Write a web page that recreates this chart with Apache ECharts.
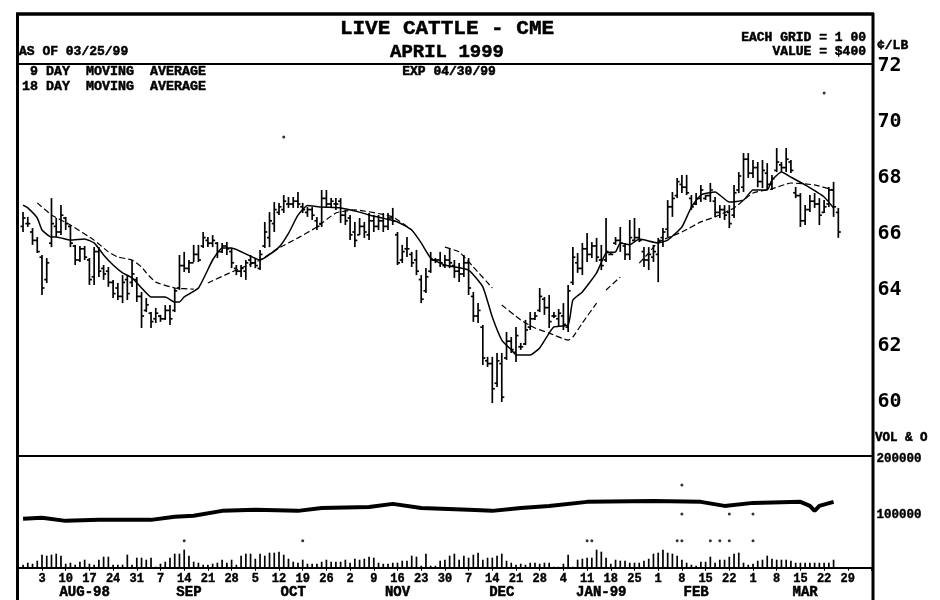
<!DOCTYPE html>
<html>
<head>
<meta charset="utf-8">
<title>Live Cattle - CME</title>
<script src="https://cdn.jsdelivr.net/npm/echarts@6/dist/echarts.min.js"></script>
<style>
  html, body { margin: 0; padding: 0; background: #fff; }
  #chart { width: 940px; height: 600px; }
</style>
</head>
<body>
<div id="chart"></div>
<script>
// one entry per trading day, first bar is day -4, day 0 is Aug 3
const firstDay = -4
const highs = [
  66.71,66.54,66.14,65.82,65.18,65.07,67.21,66.5,66.96,66.54,
  66.25,65.54,65.5,65.5,65.07,65.46,65.46,64.82,64.75,64.29,
  64.18,64.46,64.46,65.0,64.39,63.86,63.64,63.14,63.29,63.04,
  63.39,63.39,64.0,65.18,65.29,65.0,65.54,65.54,66.0,65.82,
  65.89,65.64,65.61,65.64,65.43,64.82,64.82,65.0,65.18,65.07,
  65.36,66.36,66.71,67.07,67.04,67.32,67.25,67.25,67.43,67.04,
  66.89,66.89,66.54,67.5,67.5,67.21,67.21,67.21,66.79,66.61,
  66.36,66.5,66.36,66.68,66.61,66.61,66.68,66.68,66.86,66.0,
  65.54,65.82,65.29,65.36,64.46,64.71,65.29,65.07,65.29,65.18,
  65.43,65.0,64.89,65.18,65.07,63.86,63.46,62.68,61.54,61.54,
  61.68,61.68,62.43,62.25,62.61,62.04,62.86,63.14,63.14,64.0,
  63.68,63.75,63.14,63.25,63.46,64.11,65.46,65.25,65.61,65.96,
  65.64,65.79,65.54,66.5,65.29,65.82,66.18,65.61,66.43,66.5,
  66.14,65.46,65.46,65.54,65.79,66.14,67.14,67.43,67.93,68.04,
  68.04,67.32,67.39,67.68,67.32,67.75,67.25,66.96,66.96,66.96,
  67.68,68.14,68.82,68.82,68.57,68.5,68.57,68.46,68.04,69.0,
  68.5,69.0,68.57,67.61,67.39,66.96,67.32,67.39,67.21,67.14,
  67.61,67.79,66.86
]
const lows = [
  66.0,66.18,65.54,65.25,63.75,64.18,65.46,65.82,65.89,66.07,
  65.46,64.82,64.93,65.0,64.11,64.11,64.39,64.29,64.04,63.64,
  63.57,63.46,63.57,64.04,63.5,62.57,63.14,62.57,62.75,62.79,
  62.86,62.68,63.14,63.93,64.57,64.54,64.93,64.93,65.43,65.46,
  65.46,65.07,65.25,65.18,64.71,64.46,64.39,64.29,64.75,64.71,
  64.64,65.43,65.46,66.0,66.61,66.68,66.86,66.86,66.86,66.68,
  66.54,66.43,66.07,66.18,66.86,66.86,66.79,66.32,66.25,65.71,
  65.46,65.89,65.79,65.71,66.0,66.07,66.0,66.07,66.25,64.82,
  64.89,65.11,64.75,64.46,63.46,63.82,64.54,64.89,64.75,64.71,
  64.71,64.36,64.21,64.39,63.75,62.79,62.75,61.25,61.18,59.89,
  60.46,59.93,61.43,61.68,61.36,61.79,61.96,62.5,62.86,63.14,
  63.04,62.57,62.93,62.64,62.5,62.43,64.11,64.54,64.46,64.93,
  65.07,64.93,64.64,64.93,65.18,65.54,65.29,65.0,65.0,65.64,
  65.64,64.75,64.64,64.93,64.21,65.46,65.82,66.54,67.21,67.39,
  67.32,66.79,66.96,67.07,67.14,67.07,66.54,66.5,66.43,66.14,
  66.5,67.39,67.43,67.93,67.93,67.6,67.57,67.5,67.5,68.14,
  68.14,68.14,68.11,67.21,66.18,66.25,66.71,66.86,66.25,66.68,
  66.89,66.54,65.79
]
const opens = [
  66.2,66.3,66.0,65.7,65.1,64.3,65.6,66.2,66.0,66.5,
  66.2,65.5,65.0,65.4,65.0,64.4,65.3,64.7,64.6,64.2,
  64.0,63.7,64.3,64.2,64.3,63.7,63.2,63.1,62.9,63.0,
  62.9,63.2,63.2,64.0,64.8,64.7,64.9,65.2,65.5,65.7,
  65.6,65.6,65.3,65.5,65.3,64.7,64.6,64.6,65.0,64.9,
  64.7,65.5,65.8,66.3,66.7,66.8,67.0,67.0,67.1,66.9,
  66.7,66.8,66.4,66.3,67.2,67.0,67.0,67.1,66.6,66.5,
  66.0,65.9,66.2,65.9,66.4,66.2,66.4,66.2,66.5,65.9,
  65.0,65.4,65.2,65.0,64.3,63.9,64.6,65.0,65.0,64.8,
  65.0,64.8,64.6,64.5,64.9,63.7,63.0,62.6,61.4,61.3,
  60.6,61.3,61.5,62.1,61.7,61.9,62.0,62.6,62.9,63.2,
  63.6,63.3,63.0,62.9,63.0,62.6,64.2,64.9,64.7,65.4,
  65.2,65.5,65.0,65.0,65.2,65.6,65.7,65.5,65.2,65.7,
  65.8,65.3,65.0,65.1,65.2,65.8,66.1,66.9,67.3,67.7,
  67.6,67.2,67.0,67.2,67.2,67.3,67.1,66.7,66.8,66.7,
  66.6,67.5,67.6,68.6,68.1,68.3,67.8,68.1,67.7,68.2,
  68.4,68.3,68.5,67.4,67.3,66.4,66.8,67.1,67.0,66.7,
  67.0,67.5,66.7
]
const closes = [
  66.5,66.3,65.7,65.3,64.0,64.9,66.3,66.0,66.6,66.3,
  65.6,65.0,65.4,65.1,64.3,65.3,64.6,64.5,64.2,63.8,
  63.7,64.2,63.8,64.5,63.7,63.0,63.4,62.8,63.1,62.9,
  63.2,62.9,63.9,64.8,64.7,64.9,65.2,65.0,65.8,65.6,
  65.7,65.3,65.5,65.4,64.9,64.6,64.7,64.9,64.9,64.8,
  65.2,66.0,66.4,66.8,66.9,67.1,67.0,67.1,67.0,66.8,
  66.8,66.6,66.2,67.2,67.0,67.1,67.0,66.6,66.4,65.9,
  65.7,66.2,66.0,66.4,66.2,66.4,66.2,66.5,66.4,64.9,
  65.3,65.4,64.9,64.6,63.6,64.4,65.0,65.0,64.9,65.0,
  64.9,64.6,64.5,64.9,64.0,63.0,63.2,61.5,61.3,60.4,
  61.4,60.1,62.1,61.8,62.3,61.9,62.5,62.9,63.0,63.7,
  63.3,62.8,63.0,63.1,62.7,63.9,65.1,64.7,65.4,65.2,
  65.5,65.1,64.8,65.3,65.2,65.7,65.6,65.2,65.8,65.8,
  65.7,65.0,65.2,65.3,65.7,66.0,66.9,67.2,67.8,67.6,
  67.4,66.9,67.2,67.5,67.3,67.5,66.7,66.8,66.6,66.3,
  67.4,68.0,68.6,68.1,68.3,67.8,68.2,67.7,67.9,68.5,
  68.3,68.6,68.2,67.3,66.4,66.8,67.1,67.0,66.6,66.9,
  67.5,66.9,66.0
]
const volume = [
  5400,9000,7200,12600,23400,21600,23400,25200,21600,7200,
  9000,5400,10800,14400,7200,5400,14400,19800,19800,5400,
  5400,5400,23400,5400,18000,18000,14400,18000,1800,7200,
  10800,18000,25200,25200,32400,21600,10800,9000,5400,5400,
  7200,9000,14400,9000,14400,5400,21600,25200,25200,16200,
  25200,21600,27000,27000,28800,23400,16200,10800,9000,14400,
  7200,7200,7200,10800,14400,10800,10800,10800,14400,9000,
  16200,14400,16200,19800,18000,9000,7200,7200,9000,9000,
  12600,12600,21600,19800,3600,25200,3600,3600,12600,14400,
  21600,25200,14400,21600,18000,23400,27000,14400,18000,18000,
  21600,25200,12600,9000,5400,7200,5400,9000,9000,7200,
  9000,9000,1800,1800,7200,23400,1800,14400,16200,18000,
  18000,32400,28800,18000,7200,14400,12600,12600,9000,9000,
  9000,12600,16200,25200,27000,32400,27000,25200,21600,14400,
  9000,5400,3600,10800,10800,19800,9000,14400,14400,19800,
  25200,27000,9000,5400,7200,12600,14400,21600,16200,14400,
  14400,14400,12600,9000,9000,9000,9000,9000,9000,9000,
  9000,14400,0
]

// moving averages and open interest as [day, value]
// a null value is a break in the printed line
const ma9 = [
  [-4,66.96],[-3,66.86],[-1,66.5],[0,66.07],[2,65.82],[3,65.82],[6,65.71],[9,65.75],[11,65.61],[13,65.18],
  [15,64.82],[17,64.54],[19,64.36],[21,64.0],[23,63.68],[26,63.68],[28,63.5],[29,63.5],[30,63.68],[33,64.0],
  [36,65.0],[38,65.43],[40,65.43],[46,65.0],[50,65.46],[52,65.95],[54,66.6],[56,66.95],[59,66.89],[63,66.86],[67,66.71],
  [69,66.61],[75,66.36],[78,66.07],[80,65.61],[82,65.07],[85,64.82],[90,64.64],[93,64.04],[95,62.96],[97,62.14],
  [99,61.79],[100,61.61],[103,61.61],[105,61.86],[107,62.39],[108,62.61],[111,62.68],[112,63.57],[114,63.86],[117,64.54],
  [119,65.25],[121,65.29],[122,65.61],[124,65.54],[126,65.75],[130,65.61],[132,65.71],[135,66.18],[137,66.89],[139,67.32],
  [142,67.43],[145,67.07],[148,67.14],[150,67.5],[153,67.5],[154,67.86],[156,68.14],[158,67.96],[161,67.68],[165,67.25],
  [167,66.86]
]
const ma18 = [
  [-1,67.04],[2,66.61],[6,66.25],[11,65.71],[14,65.29],[16,65.11],[19,65.0],[21,64.75],[22,64.54],[24,64.21],
  [28,64.0],[32,63.96],[33,null],[35,64.18],[40,64.57],[46,65.0],[50,65.43],[54,65.79],[58,66.18],[62,66.68],[66,66.79],
  [74,66.54],[78,66.07],[80,null],[82,65.64],[84,null],[85,65.46],[88,65.29],[91,64.75],[95,64.0],[96,null],[97,63.39],[101,62.86],[104,62.57],
  [107,62.39],[111,62.14],[112,62.25],[114,62.75],[117,63.46],[118,null],[119,63.93],[122,64.39],[124,null],[126,64.89],[128,65.25],[130,65.64],
  [135,66.0],[139,66.36],[142,66.54],[146,66.86],[150,67.39],[154,67.54],[158,67.75],[163,67.68],[167,67.5]
]
const openInterest = [
  [-4,87500],[0,89300],[5,83900],[12,85700],[23,85700],[28,91100],[32,92900],[38,101800],[45,103600],[54,101800],
  [59,107100],[69,108900],[74,114300],[80,107100],[90,103600],[95,101800],[101,107100],[107,110700],[115,117900],[129,119600],
  [139,117900],[144,110700],[150,116100],[160,117900],[162,110700],[163,101800],[164,110700],[167,117900]
]
// stray specks printed in both panels
const priceSpecks = [[51,69.39],[165,70.96]]
const volumeSpecks = [
  [30,48200],[55,48200],[115,48200],[116,48200],[134,48200],[135,48200],[141,48200],[143,48200],[145,48200],[150,48200],
  [135,148200],[135,96400],[145,96400],[150,96400]
]

const weekLabels = ['3','10','17','24','31','7','14','21','28','5','12','19','26','2','9','16','23','30',
  '7','14','21','28','4','11','18','25','1','8','15','22','1','8','15','22','29']
const monthDays = [9,31,53,75,97,118,138,161]
const monthLabels = ['AUG-98','SEP','OCT','NOV','DEC','JAN-99','FEB','MAR']

const monoFont = '"Liberation Mono"'
const chart = echarts.init(document.getElementById('chart'), null, { renderer: 'canvas' })

const renderBar = (params, api) => {
  const x = api.value(0)
  const top = api.coord([x, api.value(1)])
  const bottom = api.coord([x, api.value(2)])
  const open = api.coord([x, api.value(3)])
  const close = api.coord([x, api.value(4)])
  const style = { stroke: '#000', lineWidth: 1.7 }
  return {
    type: 'group',
    children: [
      { type: 'line', shape: { x1: top[0], y1: top[1], x2: bottom[0], y2: bottom[1] }, style },
      { type: 'line', shape: { x1: open[0] - 2.5, y1: open[1], x2: open[0], y2: open[1] }, style },
      { type: 'line', shape: { x1: close[0], y1: close[1], x2: close[0] + 2.5, y2: close[1] }, style }
    ]
  }
}

const headerText = (text, x, y, size, align) => ({
  type: 'text',
  x, y,
  style: {
    text, fill: '#000', stroke: '#000', lineWidth: 0.5,
    font: `bold ${size}px ${monoFont}`, textAlign: align || 'left', textVerticalAlign: 'middle'
  }
})
const frameLine = (x1, y1, x2, y2, lineWidth) => ({
  type: 'line',
  shape: { x1, y1, x2, y2 },
  style: { stroke: '#000', lineWidth }
})

const option = {
  animation: false,
  backgroundColor: '#fff',
  textStyle: { fontFamily: monoFont },
  grid: [
    { left: 18.3, width: 853.2, top: 64, height: 392 },
    { left: 18.3, width: 853.2, top: 456, height: 112 }
  ],
  xAxis: [
    {
      type: 'value', gridIndex: 0, min: -5, max: 175, interval: 5,
      axisLine: { onZero: false, lineStyle: { color: '#000', width: 2 } },
      axisTick: { show: false }, axisLabel: { show: false }, splitLine: { show: false }
    },
    {
      type: 'value', gridIndex: 1, min: -5, max: 175, interval: 5,
      axisLine: { onZero: false, lineStyle: { color: '#000', width: 2 } },
      axisTick: { length: 3, lineStyle: { color: '#000' } },
      splitLine: { show: false },
      axisLabel: {
        margin: 5, color: '#000', fontWeight: 'bold', fontSize: 12, fontFamily: monoFont,
        textBorderColor: '#000', textBorderWidth: 0.4,
        formatter: (v) => weekLabels[v / 5] || ''
      }
    },
    {
      type: 'value', gridIndex: 1, min: -5, max: 175, position: 'bottom', offset: 18,
      axisLine: { show: false }, axisTick: { show: false }, splitLine: { show: false },
      axisLabel: {
        customValues: monthDays, margin: 0, color: '#000', fontWeight: 'bold', fontSize: 14, fontFamily: monoFont,
        textBorderColor: '#000', textBorderWidth: 0.5,
        formatter: (v) => monthLabels[monthDays.indexOf(v)]
      }
    }
  ],
  yAxis: [
    {
      type: 'value', gridIndex: 0, position: 'right', min: 58, max: 72, interval: 2,
      axisLine: { show: false }, axisTick: { show: false }, splitLine: { show: false },
      axisLabel: {
        margin: 6,
        formatter: (v) => v === 58 ? '' : `{p|${v}}`,
        rich: {
          p: { padding: [4, 0, 0, 0], color: '#000', fontWeight: 'bold', fontSize: 20, fontFamily: '"DejaVu Sans Mono"' }
        }
      }
    },
    {
      type: 'value', gridIndex: 1, position: 'right', min: 0, max: 200000, interval: 100000,
      axisLine: { show: false }, axisTick: { show: false }, splitLine: { show: false },
      axisLabel: {
        margin: 5,
        formatter: (v) => v === 0 ? '' : `{v|${v}}`,
        rich: {
          v: {
            padding: [5, 0, 0, 0], color: '#000', fontWeight: 'bold', fontSize: 12.5, fontFamily: monoFont,
            textBorderColor: '#000', textBorderWidth: 0.4
          }
        }
      }
    }
  ],
  series: [
    {
      name: 'OHLC', type: 'custom', xAxisIndex: 0, yAxisIndex: 0, renderItem: renderBar,
      encode: { x: 0, y: [1, 2, 3, 4] },
      data: highs.map((h, i) => [firstDay + i, h, lows[i], opens[i], closes[i]])
    },
    {
      name: '9 DAY', type: 'line', xAxisIndex: 0, yAxisIndex: 0, data: ma9, showSymbol: false, smooth: 0.15,
      lineStyle: { color: '#000', width: 1.5 }
    },
    {
      name: '18 DAY', type: 'line', xAxisIndex: 0, yAxisIndex: 0, data: ma18, showSymbol: false, smooth: 0.15,
      lineStyle: { color: '#000', width: 1.2, type: [6, 3] }
    },
    {
      type: 'scatter', xAxisIndex: 0, yAxisIndex: 0, data: priceSpecks, symbolSize: 3,
      itemStyle: { color: '#000' }
    },
    {
      name: 'Volume', type: 'bar', xAxisIndex: 1, yAxisIndex: 1, barWidth: 1.7,
      itemStyle: { color: '#000' },
      data: volume.map((v, i) => [firstDay + i, v])
    },
    {
      name: 'Open interest', type: 'line', xAxisIndex: 1, yAxisIndex: 1, data: openInterest, showSymbol: false,
      lineStyle: { color: '#000', width: 4 }
    },
    {
      type: 'scatter', xAxisIndex: 1, yAxisIndex: 1, data: volumeSpecks, symbolSize: 3,
      itemStyle: { color: '#000' }
    }
  ],
  graphic: [
    frameLine(17.5, 13, 17.5, 600, 3),
    frameLine(873, 13, 873, 600, 3),
    frameLine(16, 14, 874, 14, 3.5),
    frameLine(17, 64, 873, 64, 2),
    headerText('LIVE CATTLE - CME', 447, 29, 21, 'center'),
    headerText('APRIL 1999', 447, 52, 19, 'center'),
    headerText('AS OF 03/25/99', 19, 52, 13),
    headerText('EACH GRID = 1 00', 866, 38, 13, 'right'),
    headerText('VALUE = $400', 866, 52, 13, 'right'),
    headerText('EXP 04/30/99', 449, 72, 13, 'center'),
    headerText('9 DAY  MOVING  AVERAGE', 30, 72, 13.33),
    headerText('18 DAY  MOVING  AVERAGE', 22, 87, 13.33),
    headerText('¢/LB', 877, 46, 13),
    headerText('VOL & O', 875, 438, 12.5)
  ]
}

chart.setOption(option)
</script>
</body>
</html>
